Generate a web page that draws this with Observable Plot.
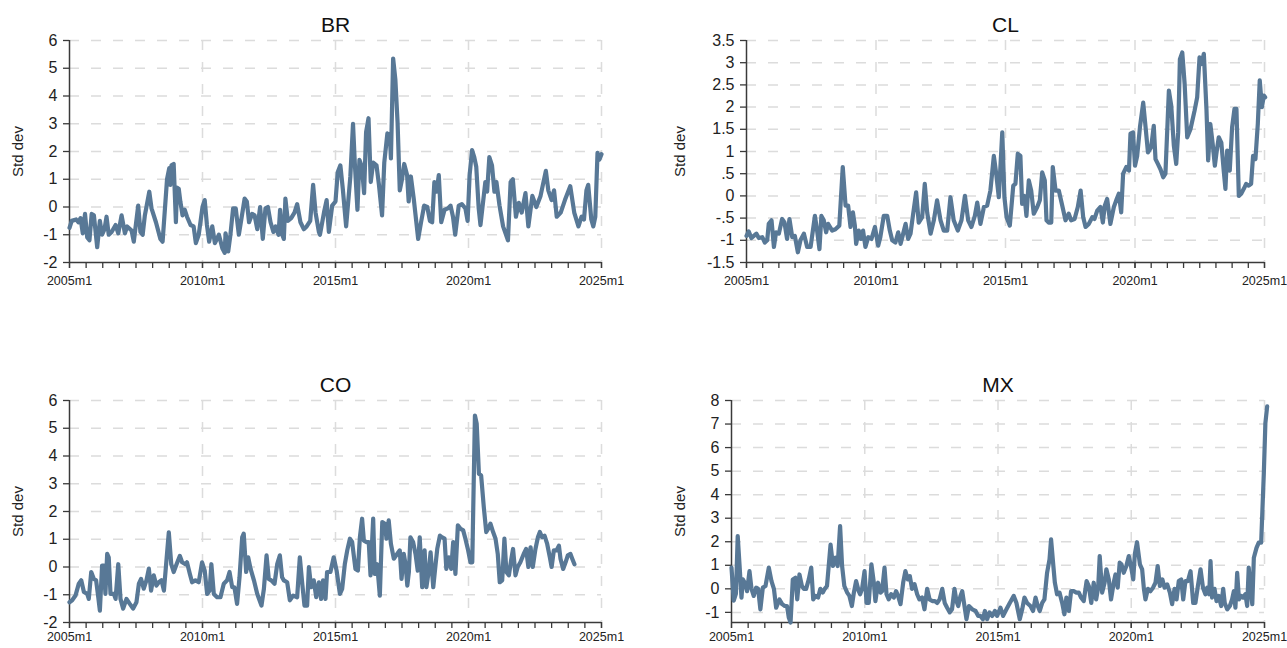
<!DOCTYPE html>
<html>
<head>
<meta charset="utf-8">
<script src="https://cdn.jsdelivr.net/npm/d3@7"></script>
<script src="https://cdn.jsdelivr.net/npm/@observablehq/plot@0.6"></script>
<style>
  html, body { margin: 0; padding: 0; background: #ffffff; }
  #chart { position: relative; width: 1287px; height: 648px; overflow: hidden; background: #ffffff; }
  #chart svg { position: absolute; }
</style>
</head>
<body>
<div id="chart"></div>
<script>
// ---- Data: [month index since 2005m1, standard deviations] ----
const countries = ["BR", "CL", "CO", "MX"];

const brSeries = [[0,-0.75],[1,-0.5],[3,-0.45],[4,-0.55],[5,-0.4],[6,-0.95],[7,-0.25],[8,-1.1],[9,-1.2],[10,-0.25],[11,-0.3],[12.5,-1.45],[13.7,-0.5],[14.7,-1.0],[15.8,-0.8],[16.7,-0.35],[17.7,-1.0],[19,-0.9],[20.8,-0.65],[22,-0.95],[23.5,-0.3],[25,-0.95],[26,-0.7],[28,-0.85],[29,-1.25],[31,0.05],[32,-0.9],[33,-1.0],[34,-0.3],[36,0.55],[37,-0.05],[39,-0.55],[41,-1.15],[42,-1.25],[44,1.0],[45,1.4],[45.5,0.8],[46,1.5],[47,1.55],[48,-0.55],[48.5,0.7],[49.3,0.65],[50,0.2],[51,-0.3],[52,-0.1],[53,-0.35],[54.6,-0.65],[56,-0.7],[57,-1.3],[58.3,-1.0],[60,0.0],[61,0.25],[62,-0.65],[63,-1.25],[64.4,-0.7],[65.6,-1.3],[67.4,-1.0],[69,-1.5],[70,-1.65],[70.4,-0.95],[71.6,-1.6],[72.6,-1.0],[73.8,-0.05],[75,-0.05],[76.4,-1.0],[78,-0.2],[79,0.3],[80,0.2],[81,-0.55],[82.4,-0.25],[83.5,-0.3],[84.7,-0.8],[86,0.0],[87.2,-1.15],[88.4,-0.05],[89.5,0.0],[90.7,-0.55],[92,-0.9],[93,-0.7],[94.3,-1.0],[95,-0.1],[96,-1.0],[96.7,-1.15],[97.4,0.3],[98.5,-0.5],[100,-0.4],[101.5,-0.2],[102.7,0.1],[104.2,-0.55],[105.7,-0.8],[107,-0.7],[108.6,-0.5],[109.9,0.8],[111,-0.2],[112.5,-0.9],[113,-1.0],[114.8,-0.2],[116,0.25],[117,-0.9],[118.5,0.05],[120,0.2],[121,1.25],[122.2,1.5],[123.3,0.65],[124.8,-0.7],[126.7,1.1],[127.9,3.0],[128.7,1.6],[129.9,-0.1],[130.8,1.7],[131.9,1.45],[132.9,0.5],[133.8,2.7],[134.9,3.2],[135.9,0.9],[137,1.6],[138.5,1.5],[139.6,0.8],[141,-0.3],[142,1.6],[143.4,2.65],[144.5,2.6],[145,1.75],[146,5.35],[147,4.6],[148,3.05],[149,0.6],[150,1.0],[151,1.55],[152.3,1.15],[153,0.2],[154,1.1],[155.3,0.3],[157.3,-1.15],[158.6,-0.55],[160,0.05],[161.4,0.0],[162.6,-0.5],[163.6,-0.55],[164.6,0.9],[165.6,0.55],[166.6,1.15],[167.7,-0.55],[169.2,-0.1],[170.7,-0.05],[171.9,0.05],[173,-0.35],[174,-1.0],[175.6,0.05],[177,0.1],[178.6,-0.05],[179.6,-0.5],[180.5,1.15],[181.6,2.05],[182.6,1.8],[183.5,1.45],[184.6,-0.05],[185.4,-0.65],[186.6,0.2],[187.6,0.9],[188.4,0.55],[189.4,1.8],[190.6,1.5],[191.7,0.55],[192.6,0.9],[194,0.05],[195.6,-0.7],[197.8,-1.2],[199,0.9],[200,1.0],[201.4,-0.35],[202.7,0.15],[204,-0.2],[205.7,0.5],[207,-0.7],[208.8,0.4],[210.6,0.0],[212.5,0.4],[214.9,1.3],[216,0.6],[217.5,0.25],[218.6,0.6],[219.8,-0.35],[221.6,-0.2],[223.5,0.25],[225.9,0.75],[227.7,-0.2],[229.6,-0.7],[231,-0.35],[232.1,-0.45],[233.2,0.6],[234,0.8],[235.4,-0.45],[236.3,-0.7],[237.2,-0.35],[238.2,1.95],[239,1.7],[240,1.9]];

const clSeries = [[0,-0.9],[1,-0.8],[2.3,-0.95],[3.4,-0.9],[4.6,-0.85],[5.7,-0.95],[7.3,-0.93],[8.5,-1.05],[9.6,-1.0],[10.3,-0.63],[11.6,-0.55],[12.7,-1.15],[13.7,-0.82],[15,-0.85],[16.5,-0.52],[17.6,-0.6],[18.8,-0.97],[19.9,-0.52],[21.2,-0.93],[22.4,-0.9],[23.8,-1.27],[25,-1.0],[26.6,-0.85],[28.1,-1.15],[29.7,-1.15],[31.7,-0.45],[32.7,-0.78],[33.8,-1.2],[34.7,-0.45],[35.8,-0.55],[36.9,-0.82],[37.8,-0.63],[39.7,-0.78],[41.2,-0.75],[43,-0.67],[44.6,0.65],[45.9,-0.22],[47.1,-0.22],[48.2,-0.7],[49.3,-0.37],[50.2,-0.67],[50.8,-1.08],[52,-0.78],[53,-0.97],[54,-0.78],[55.1,-1.15],[56.4,-0.93],[57.9,-0.97],[59.5,-0.7],[61,-1.12],[62,-0.93],[63.6,-0.45],[65.2,-0.45],[66.4,-0.78],[67.5,-1.0],[69,-1.05],[70.3,-0.82],[71.4,-1.08],[72.6,-0.85],[73.7,-0.63],[74.9,-0.97],[76,-0.85],[77,-0.48],[78.6,0.08],[79.8,-0.6],[81.4,-0.48],[82.6,0.27],[83.7,-0.37],[85.3,-0.85],[86.8,-0.55],[88.3,-0.1],[89.9,-0.55],[91.4,-0.78],[93,-0.78],[94.5,-0.03],[96,-0.55],[97.9,-0.78],[99.6,-0.55],[101.2,0.0],[102.7,-0.55],[104.2,-0.7],[105.8,-0.45],[106.9,-0.15],[108.4,-0.63],[110,-0.25],[111.5,-0.22],[113,0.12],[114.6,0.9],[115.7,0.5],[116.9,-0.03],[118.5,1.43],[119.5,-0.03],[120.5,-0.48],[122,-0.67],[123.6,0.23],[124.6,0.27],[125.7,0.95],[126.9,0.9],[127.7,-0.18],[128.8,0.0],[129.7,-0.45],[130.8,0.35],[131.9,0.12],[133.1,-0.4],[134.7,-0.25],[135.9,-0.1],[137,0.53],[138.2,0.35],[139,-0.55],[140,-0.6],[141.2,-0.6],[141.9,0.65],[143.2,0.12],[144.7,0.12],[146.3,-0.22],[147.8,-0.55],[149.3,-0.4],[150.4,-0.55],[152,-0.52],[153.5,-0.25],[154.8,0.12],[156,-0.48],[157.1,-0.7],[158.6,-0.63],[160.2,-0.48],[161.2,-0.52],[162.5,-0.33],[164,-0.25],[165.1,-0.6],[166,-0.22],[167.1,-0.07],[168.6,-0.63],[170.2,-0.25],[171.3,-0.1],[172.5,0.05],[173.6,-0.37],[174.5,0.5],[176,0.65],[177.2,0.57],[177.9,1.4],[179.1,1.43],[180,0.68],[181,0.9],[182.3,1.55],[183.8,2.1],[184.9,1.55],[186,0.98],[187.5,1.1],[188.7,1.58],[189.5,0.83],[190.6,0.72],[191.8,0.6],[193.1,0.42],[194.1,0.5],[195.7,2.37],[196.8,2.03],[198,1.13],[199.1,0.72],[200,1.43],[200.8,3.08],[201.9,3.23],[203,2.52],[204.2,1.32],[205.7,1.5],[207.6,1.92],[208.8,2.22],[209.9,3.12],[210.8,2.97],[211.9,3.2],[213.1,1.96],[213.9,0.8],[214.9,1.62],[216,1.17],[217,0.68],[217.7,0.95],[218.8,1.32],[220,1.2],[221.1,0.57],[221.9,0.16],[222.7,1.02],[223.9,0.57],[225,1.55],[226.1,1.96],[227,1.96],[228.1,0.0],[229.2,0.05],[230.4,0.16],[231.5,0.27],[232.7,0.23],[233.8,0.27],[234.7,0.9],[235.8,0.83],[236.9,1.62],[237.8,2.6],[238.8,2.0],[239.7,2.26],[240.3,2.22]];

const coSeries = [[0,-1.27],[1.2,-1.2],[2.7,-1.03],[4.2,-0.6],[5.3,-0.48],[6.5,-0.9],[8,-0.97],[8.7,-1.15],[9.8,-0.18],[11,-0.43],[12,-0.48],[12.8,-0.97],[13.7,-1.57],[14.7,0.05],[15.5,0.05],[16.2,-0.97],[17,0.47],[17.7,0.35],[18.5,-0.97],[20,-0.97],[20.8,-1.15],[22,0.1],[23,-1.15],[24.2,-1.5],[25.7,-1.15],[27.2,-1.33],[28.7,-1.5],[30.2,-1.27],[31.3,-0.6],[32.3,-0.43],[33.5,-0.78],[34.7,-0.48],[35.8,-0.06],[36.8,-0.85],[38,-0.3],[39.2,-0.67],[40.3,-0.55],[41.5,-0.48],[42.6,-0.85],[43.8,0.3],[44.8,1.25],[45.9,0.1],[47,-0.18],[48.3,0.1],[49.8,0.4],[50.8,0.17],[52.3,0.1],[53,0.17],[54.3,-0.25],[55.3,-0.55],[56.8,-0.48],[58.3,-0.55],[59.8,0.17],[61,-0.13],[62.1,-0.97],[63.2,-0.85],[64,0.1],[65.1,-0.97],[66.6,-1.09],[68.1,-1.09],[69.6,-0.6],[71.1,-0.48],[72.2,-0.18],[73.4,-0.73],[74.4,-0.73],[75.6,-1.33],[76.7,-0.37],[77.9,1.07],[78.6,1.2],[79.7,-0.18],[80.6,0.35],[81.7,-0.07],[83.2,-0.48],[84.7,-0.97],[86.6,-1.39],[87.7,-0.79],[88.9,0.42],[89.9,-0.43],[91,-0.48],[92.5,-0.6],[93.7,0.1],[94.9,0.42],[95.9,-0.37],[96.7,-0.48],[98.2,-0.55],[99.4,-1.2],[100.9,-1.03],[102.7,-1.09],[103.9,0.35],[105,-0.6],[106,-1.39],[107.2,-1.39],[108,0.0],[109,-0.73],[110.2,-0.48],[111.3,-1.09],[112.5,-0.55],[113.5,-1.15],[114.4,-0.48],[115.5,-1.15],[116.2,-0.18],[117.7,-0.18],[119.2,0.35],[120.5,-0.13],[122,-0.97],[123,-0.79],[124.2,0.1],[125.3,0.6],[126.5,1.02],[127.5,0.9],[129,-0.07],[130.1,-0.13],[131,1.07],[132,1.74],[132.8,0.95],[134,0.9],[135,0.9],[135.8,-0.3],[137,1.74],[137.7,-0.25],[138.8,0.1],[140,-1.03],[141.1,1.62],[142.3,1.56],[143,1.02],[144,1.68],[145,0.83],[146.3,0.3],[147.8,0.47],[149,0.6],[149.8,-0.43],[150.8,0.47],[151.6,0.1],[152.4,-0.67],[153.1,-0.18],[153.8,1.07],[155,0.9],[156.1,0.47],[157.1,-0.13],[158,1.07],[159.1,-0.73],[160.2,0.6],[161,-0.73],[162.1,-0.13],[162.9,0.53],[164.1,-0.73],[165.1,0.05],[165.9,0.65],[167.1,1.13],[168.1,1.07],[169.2,1.02],[170,-0.07],[171.1,0.35],[172.2,-0.07],[173.1,0.9],[174.1,-0.25],[175.2,1.5],[176.4,1.38],[177.6,1.32],[178.6,1.02],[179.7,0.65],[180.9,0.17],[181.7,0.17],[182.9,5.46],[183.7,5.16],[184.7,3.36],[185.7,3.3],[186.9,2.16],[188,1.26],[188.9,1.38],[189.9,1.56],[191.1,1.26],[192.2,1.02],[193.2,0.47],[194.1,-0.55],[195.2,-0.48],[196.2,1.02],[197.1,-0.18],[198.2,-0.3],[199.2,0.23],[200.1,0.65],[201.2,-0.3],[202.2,0.0],[203.4,0.17],[204.9,0.47],[206,0.65],[207,0.0],[208,0.71],[209,0.0],[210.2,0.65],[211.3,1.07],[212.2,1.26],[213.2,1.07],[214.3,1.13],[215.5,0.83],[216.7,0.35],[217.5,0.0],[218.5,0.6],[219.7,0.6],[220.8,0.77],[221.5,0.3],[222.7,-0.07],[223.8,0.17],[224.8,0.42],[226,0.47],[226.8,0.3],[227.8,0.1]];

const mxSeries = [[0,0.9],[1,-0.5],[2,-0.2],[2.8,2.24],[3.6,1.04],[4.5,-0.37],[5.1,0.4],[6,0.26],[7,-0.1],[8.1,0.75],[9,0.0],[10,-0.3],[11.1,0.05],[12,0.0],[13,-0.87],[14.1,0.05],[15.3,0.12],[16.8,0.9],[18,0.33],[19.1,0.0],[20.1,-0.8],[21.6,-0.45],[22.8,-0.65],[24,-0.73],[25,-0.73],[25.8,-1.22],[26.6,-1.43],[27.6,0.4],[28.8,0.47],[29.6,-0.45],[30.6,0.61],[31.7,0.12],[32.6,0.0],[33.6,0.0],[34.8,0.4],[35.9,0.9],[36.8,-0.45],[37.8,-0.3],[39,-0.37],[40,0.0],[41.1,-0.16],[42,0.0],[43,0.12],[44.6,1.88],[45.7,0.97],[46.8,1.32],[47.8,0.97],[48.9,2.66],[49.8,0.97],[50.8,0.12],[52.1,-0.16],[53.1,-0.3],[54.2,-0.73],[55.1,-0.16],[56.1,0.33],[57.3,-0.1],[57.9,-0.23],[58.8,0.0],[59.9,0.75],[60.8,-0.6],[61.8,-0.6],[63,1.04],[64.1,0.26],[64.8,-0.52],[66,0.26],[67.1,-0.16],[67.8,-0.1],[68.9,0.9],[69.8,-0.23],[70.8,-0.45],[71.9,-0.23],[73.1,-0.37],[74.1,-0.1],[75,-0.3],[76.1,-0.65],[77.3,0.26],[78.3,0.75],[79.4,0.4],[80.3,0.54],[81.3,0.0],[82.4,0.2],[83.6,-0.23],[84.6,-0.45],[85.8,-0.37],[86.9,-0.87],[88.1,0.0],[89.2,-0.45],[90.4,-0.52],[91.6,-0.52],[92.6,-0.6],[93.7,-0.45],[94.9,0.0],[96,-0.6],[97.1,-0.8],[98.3,-1.0],[99.3,-0.87],[100.4,0.0],[101.3,-0.52],[102.1,-0.73],[103.1,-0.3],[103.9,-0.1],[104.9,-0.73],[105.8,-1.29],[106.9,-0.73],[108.4,-0.87],[109.9,-0.94],[111.1,-1.15],[112.1,-1.15],[113.2,-1.29],[114.1,-0.94],[115.1,-1.29],[116.2,-1.0],[117.4,-1.15],[118.6,-0.94],[119.6,-1.15],[121.1,-0.8],[122.3,-1.15],[123.8,-0.87],[125.3,-0.6],[127.1,-0.3],[128.3,-0.6],[129.8,-1.29],[130.9,-0.87],[131.9,-0.37],[133.1,-0.6],[134.6,-0.73],[135.8,-0.94],[136.9,-0.37],[137.9,-0.73],[138.8,-0.94],[139.9,-0.6],[140.9,-0.45],[142.1,0.68],[143.2,1.25],[143.9,2.1],[144.8,1.11],[145.6,0.26],[146.6,-0.23],[147.7,-0.16],[148.9,-0.6],[149.9,-1.08],[150.8,-0.37],[151.9,-0.94],[152.9,-0.1],[154.1,-0.1],[155.3,-0.16],[156.4,-0.16],[157.4,-0.37],[158.6,-0.52],[159.9,0.33],[160.9,0.12],[162,-0.6],[163.1,0.26],[164.2,-0.45],[165.1,0.05],[165.8,1.39],[166.9,-0.16],[168,0.26],[168.8,0.83],[169.9,0.4],[170.9,-0.45],[172.1,0.26],[172.9,0.61],[173.9,0.05],[174.8,1.11],[175.6,1.04],[176.6,0.68],[177.8,0.97],[178.9,1.39],[180,0.9],[180.9,0.4],[181.6,1.46],[182.6,1.98],[183.9,1.04],[184.9,0.83],[185.7,0.0],[186.4,-0.45],[187.5,0.0],[188.6,-0.1],[189.8,0.05],[190.9,0.26],[191.9,0.97],[192.9,0.12],[194,0.4],[195,0.05],[196.2,0.19],[197.4,-0.16],[198.4,-0.65],[199.5,0.0],[200.4,-0.45],[201.4,0.33],[202.5,0.4],[203.4,-0.45],[204.4,0.33],[205.5,0.33],[206.7,0.75],[207.9,-0.6],[208.9,-0.6],[210,0.12],[211.2,0.83],[212.3,0.05],[213.4,-0.23],[214.2,0.05],[215.1,-0.23],[215.7,1.18],[216.4,-0.37],[217.5,0.0],[218.4,-0.52],[219.4,-0.3],[220.5,-0.73],[221.4,0.0],[222.1,-0.6],[223.2,-0.87],[224.4,-0.73],[225.4,-0.45],[226.2,-0.1],[226.9,-0.8],[227.7,0.68],[228.5,-0.45],[229.5,-0.3],[230.4,-0.37],[231.4,-0.23],[232.2,-0.73],[232.9,0.9],[233.7,0.0],[234.5,-0.65],[235.2,1.32],[236.4,1.74],[237.4,1.96],[238.5,1.96],[239.7,4.92],[240.4,7.04],[241.2,7.75]];

// y-axis ranges and tick values per panel
const brYDomain = [-2, 6],   brYTicks = [-2, -1, 0, 1, 2, 3, 4, 5, 6];
const clYDomain = [-1.5, 3.5], clYTicks = [-1.5, -1, -0.5, 0, 0.5, 1, 1.5, 2, 2.5, 3, 3.5];
const coYDomain = [-2, 6],   coYTicks = [-2, -1, 0, 1, 2, 3, 4, 5, 6];
const mxYDomain = [-1.43, 8], mxYTicks = [-1, 0, 1, 2, 3, 4, 5, 6, 7, 8];

// x-axis: labelled ticks (months since 2005m1) and their labels
const xMajorTicks = [0, 60, 120, 180, 240];
const xMajorLabels = ["2005m1", "2010m1", "2015m1", "2020m1", "2025m1"];
const xMinorTicks = d3.range(0, 240.001, 7.5);
const yLabel = "Std dev";

// ---- Layout (positions/sizes) ----
const layout = {
  BR: { left: 0,   top: 0,   width: 640, ml: 69,  mr: 39, mt: 40, mb: 62, labelX: 18, xPad: 8 },
  CL: { left: 640, top: 0,   width: 647, ml: 106, mr: 23, mt: 40, mb: 62, labelX: 40, xPad: 8 },
  CO: { left: 0,   top: 324, width: 640, ml: 69,  mr: 39, mt: 76, mb: 26, labelX: 18, xPad: 4 },
  MX: { left: 640, top: 324, width: 647, ml: 91,  mr: 23, mt: 76, mb: 26, labelX: 40, xPad: 4 }
};
const seriesBy = { BR: brSeries, CL: clSeries, CO: coSeries, MX: mxSeries };
const domainBy = { BR: brYDomain, CL: clYDomain, CO: coYDomain, MX: mxYDomain };
const ticksBy  = { BR: brYTicks, CL: clYTicks, CO: coYTicks, MX: mxYTicks };

const LINE = "#587896";
const AXIS = "#3a3a3a";
const GRID = "#dcdcdc";
const FONT = "'Liberation Sans', Arial, Helvetica, sans-serif";

const fmtY = d => d === 0 ? "0" : String(d).replace(/^(-?)0\./, "$1.");
const fmtX = m => xMajorLabels[xMajorTicks.indexOf(m)];

const chart = document.getElementById("chart");

for (const name of countries) {
  const L = layout[name];
  const yDomain = domainBy[name];
  const yTicks = ticksBy[name];
  const data = seriesBy[name].map(([m, v]) => ({ m, v }));
  const svg = Plot.plot({
    width: L.width,
    height: 324,
    marginLeft: L.ml,
    marginRight: L.mr,
    marginTop: L.mt,
    marginBottom: L.mb,
    style: { fontFamily: FONT, color: "#222", background: "transparent", overflow: "visible" },
    x: { domain: [0, 240] },
    y: { domain: yDomain },
    marks: [
      Plot.gridY(yTicks.filter(t => t > yDomain[0]), { stroke: GRID, strokeOpacity: 1, strokeWidth: 1.5, strokeDasharray: "10,12" }),
      Plot.gridX(xMajorTicks.filter(t => t > 0), { stroke: GRID, strokeOpacity: 1, strokeWidth: 1.5, strokeDasharray: "10,12" }),
      Plot.axisY({ ticks: yTicks, tickSize: 6, tickPadding: 6, fontSize: 16, tickFormat: fmtY, stroke: AXIS, strokeWidth: 1.3, label: null }),
      Plot.axisX({ ticks: xMinorTicks, tickSize: 6, tickFormat: () => "", stroke: AXIS, strokeWidth: 1.3, label: null }),
      Plot.axisX({ ticks: xMajorTicks, tickSize: 6, tickPadding: L.xPad, fontSize: 12.5, tickFormat: fmtX, stroke: AXIS, strokeWidth: 1.3, label: null }),
      Plot.ruleX([0], { stroke: AXIS, strokeWidth: 1.5 }),
      Plot.ruleY([yDomain[0]], { stroke: AXIS, strokeWidth: 1.5 }),
      Plot.line(data, { x: "m", y: "v", stroke: LINE, strokeWidth: 4.2, strokeLinejoin: "round", strokeLinecap: "round" }),
      Plot.text([name], { frameAnchor: "top", lineAnchor: "middle", dy: -15, fontSize: 21, fill: "#111" }),
      Plot.text([yLabel], { frameAnchor: "left", textAnchor: "middle", lineAnchor: "middle", dx: L.labelX - L.ml, rotate: -90, fontSize: 15, fill: "#222" })
    ]
  });
  svg.style.left = L.left + "px";
  svg.style.top = L.top + "px";
  chart.appendChild(svg);
}
</script>
</body>
</html>
